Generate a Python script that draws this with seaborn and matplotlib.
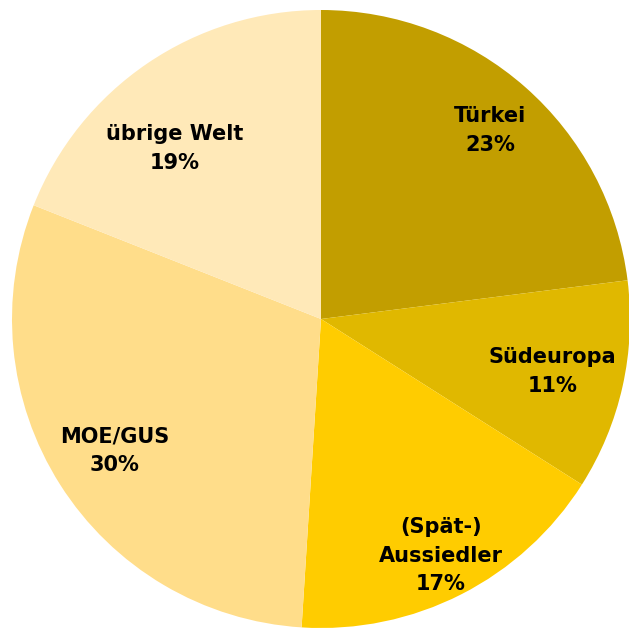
import matplotlib
matplotlib.use('Agg')
import matplotlib.pyplot as plt
import seaborn as sns

#-------------------------------------------------
l_region=['Türkei', 'Südeuropa', '(Spät-)\nAussiedler', 'MOE/GUS', 'übrige Welt']
l_share=[23, 11, 17, 30, 19]
l_color=['#C29E00', '#E0B800', '#FFCC00', '#FFDD8A', '#FFE9B8']

# label nudges (px) to sit like the original
l_nudge=[(8, 5), (-7, 1), (9, -19), (0, -1), (-9, -31)]

#-------------------------------------------------
sns.set_theme(style='white')
plt.rcParams['font.family']=['DejaVu Sans']

fig=plt.figure(figsize=(6.29, 6.31), dpi=100)
ax=fig.add_axes([0, 0, 1, 1])

labels=[f'{r}\n{v}%' for r, v in zip(l_region, l_share)]
wedges, texts=ax.pie(l_share, labels=labels, colors=sns.color_palette(l_color),
                     startangle=90, counterclock=False, center=(321, 312), radius=309,
                     labeldistance=0.79, wedgeprops=dict(linewidth=0),
                     textprops=dict(fontsize=15, weight='bold', color='black',
                                    ha='center', va='center', linespacing=1.55))
for t, (dx, dy) in zip(texts, l_nudge):
    t.set_horizontalalignment('center')
    x, y=t.get_position()
    t.set_position((x+dx, y+dy))

ax.set_xlim(0, 629)
ax.set_ylim(0, 631)
ax.set_aspect('equal')
ax.axis('off')

#save
plt.savefig('out.png', dpi=100)
plt.close()
